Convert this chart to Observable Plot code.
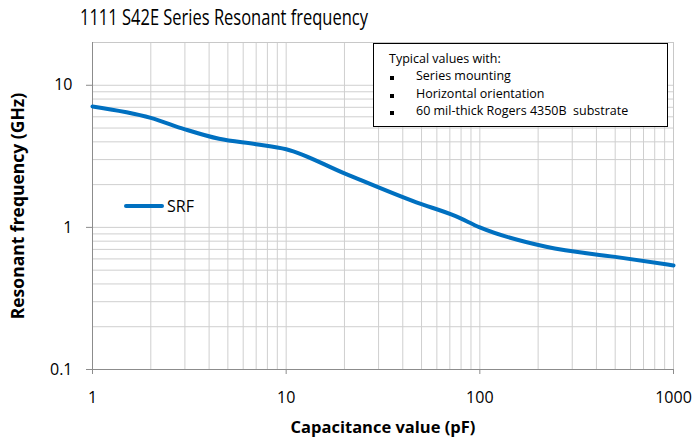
<!DOCTYPE html>
<html>
<head>
<meta charset="utf-8">
<script src="https://cdn.jsdelivr.net/npm/d3@7"></script>
<script src="https://cdn.jsdelivr.net/npm/@observablehq/plot@0.6"></script>
<style>
  html, body { margin: 0; padding: 0; background: #fff; }
  #wrap { position: relative; width: 694px; height: 440px; font-family: "Open Sans", "Noto Sans", sans-serif; }
  #title { position: absolute; left: 80px; top: 3px; font-size: 21px; color: #000; white-space: nowrap; transform: scaleX(0.785); transform-origin: left top; }
  #note { position: absolute; left: 373px; top: 43px; width: 295px; height: 84px; border: 1.3px solid #000; background: #fff; box-sizing: border-box; font-size: 12.5px; color: #000; }
  #note .l { position: absolute; white-space: pre; }
  #note .b { position: absolute; width: 4px; height: 4px; background: #000; }
  #legend { position: absolute; left: 124px; top: 195px; font-size: 16px; display: flex; align-items: center; }
  #legend .sw { width: 40px; height: 4px; background: #0070c0; border-radius: 2px; margin-right: 3px; }
</style>
</head>
<body>
<div id="wrap"></div>
<script>
// Data: capacitance (pF) vs series resonant frequency (GHz)
const capacitance = [1, 2, 3, 4.5, 7, 10, 20, 47, 75, 100, 220, 500, 1000];
const srf = [7.1, 5.9, 4.9, 4.2, 3.85, 3.55, 2.4, 1.5, 1.2, 1.0, 0.73, 0.62, 0.54];

// Axis ticks and grid values
const xTicks = [1, 10, 100, 1000];
const xTickLabels = ["1", "10", "100", "1000"];
const yTicks = [0.1, 1, 10];
const yTickLabels = ["0.1", "1", "10"];
const xGrid = [2,3,4,5,6,7,8,9,10,20,30,40,50,60,70,80,90,100,200,300,400,500,600,700,800,900];
const yGrid = [0.2,0.3,0.4,0.5,0.6,0.7,0.8,0.9,1,2,3,4,5,6,7,8,9,10];

const titleText = "1111 S42E Series Resonant frequency";
const xLabel = "Capacitance value (pF)";
const yLabel = "Resonant frequency (GHz)";
const seriesName = "SRF";
const noteHeader = "Typical values with:";
const noteItems = ["Series mounting", "Horizontal orientation", "60 mil-thick Rogers 4350B  substrate"];

const data = capacitance.map((c, i) => ({c, f: srf[i]}));

const chart = Plot.plot({
  width: 694,
  height: 440,
  marginLeft: 92,
  marginRight: 21,
  marginTop: 42,
  marginBottom: 71,
  style: {fontFamily: "'Open Sans', 'Noto Sans', sans-serif", fontSize: "16px", color: "#000", background: "#fff"},
  x: {type: "log", domain: [1, 1000]},
  y: {type: "log", domain: [0.1, 20]},
  marks: [
    Plot.ruleX(xGrid, {stroke: "#cfcfcf", strokeWidth: 1}),
    Plot.ruleY(yGrid, {stroke: "#cfcfcf", strokeWidth: 1}),
    Plot.frame({stroke: "#c8c8c8"}),
    Plot.ruleX([1], {stroke: "#8c8c8c"}),
    Plot.ruleY([0.1], {stroke: "#8c8c8c"}),
    Plot.axisX({ticks: xTicks, tickFormat: (d) => xTickLabels[xTicks.indexOf(d)], tickSize: 5, tickPadding: 17, stroke: "#8c8c8c", fontSize: 16, label: null}),
    Plot.axisY({ticks: yTicks, tickFormat: (d) => yTickLabels[yTicks.indexOf(d)], tickSize: 6, tickPadding: 14, stroke: "#8c8c8c", fontSize: 16, label: null}),
    Plot.line(data, {x: "c", y: "f", stroke: "#0070c0", strokeWidth: 4, curve: "monotone-x", strokeLinecap: "round"}),
    Plot.text([xLabel], {frameAnchor: "bottom", dy: 63, text: d => d, fontWeight: "bold", fontSize: 16.5, textAnchor: "middle"}),
    Plot.text([yLabel], {frameAnchor: "left", dx: -74, rotate: -90, text: d => d, fontWeight: "bold", fontSize: 17.5, textAnchor: "middle"})
  ]
});

const wrap = document.getElementById("wrap");
wrap.appendChild(chart);

const t = document.createElement("div");
t.id = "title"; t.textContent = titleText; wrap.appendChild(t);

const note = document.createElement("div");
note.id = "note";
const h = document.createElement("div");
h.className = "l"; h.style.left = "15px"; h.style.top = "6px"; h.textContent = noteHeader; note.appendChild(h);
noteItems.forEach((s, i) => {
  const b = document.createElement("div");
  b.className = "b"; b.style.left = "16px"; b.style.top = (32 + i * 17.5) + "px"; note.appendChild(b);
  const l = document.createElement("div");
  l.className = "l"; l.style.left = "42px"; l.style.top = (23 + i * 17.5) + "px"; l.textContent = s; note.appendChild(l);
});
wrap.appendChild(note);

const lg = document.createElement("div");
lg.id = "legend";
lg.innerHTML = '<div class="sw"></div><span></span>';
lg.querySelector("span").textContent = seriesName;
wrap.appendChild(lg);
</script>
</body>
</html>
